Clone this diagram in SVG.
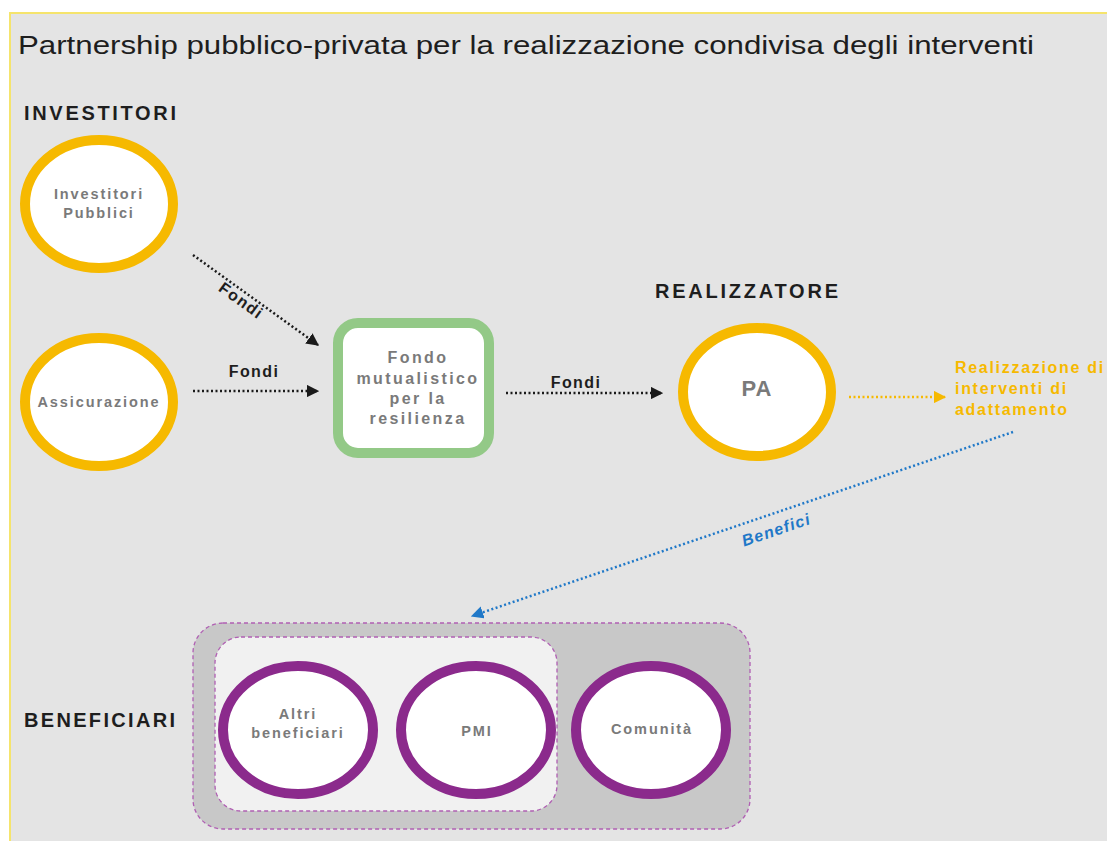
<svg xmlns="http://www.w3.org/2000/svg" width="1107" height="841" viewBox="0 0 1107 841">
  <defs>
    <marker id="arrBlack" viewBox="0 0 10 10" refX="9" refY="5" markerWidth="5" markerHeight="5" orient="auto" markerUnits="strokeWidth">
      <path d="M0,0 L10,5 L0,10 Z" fill="#1a1a1a"/>
    </marker>
    <marker id="arrYellow" viewBox="0 0 10 10" refX="9" refY="5" markerWidth="5" markerHeight="5" orient="auto" markerUnits="strokeWidth">
      <path d="M0,0 L10,5 L0,10 Z" fill="#f6b900"/>
    </marker>
    <marker id="arrBlue" viewBox="0 0 10 10" refX="9" refY="5" markerWidth="5" markerHeight="5" orient="auto" markerUnits="strokeWidth">
      <path d="M0,0 L10,5 L0,10 Z" fill="#1f78c8"/>
    </marker>
    <style>
      .sect { font-family: "Liberation Sans", Arial, sans-serif; font-weight: bold; font-size: 20px; fill: #1e1e1e; }
      .lbl { font-family: "Liberation Sans", Arial, sans-serif; font-weight: bold; font-size: 14.5px; letter-spacing: 1.9px; fill: #7a7a7a; text-anchor: middle; }
      .lbl-box { font-size: 16px; letter-spacing: 2.4px; }
      .lbl-pa { font-size: 22px; letter-spacing: 1px; }
      .edge { font-family: "Liberation Sans", Arial, sans-serif; font-weight: bold; font-size: 16px; letter-spacing: 1.4px; fill: #1e1e1e; text-anchor: middle; }
      .out { font-family: "Liberation Sans", Arial, sans-serif; font-weight: bold; font-size: 16px; letter-spacing: 1.7px; fill: #f6b900; }
      .ring-y { fill: #ffffff; stroke: #f6b900; stroke-width: 10; }
      .ring-p { fill: #ffffff; stroke: #8b2a8c; stroke-width: 10; }
      .flow { fill: none; stroke: #1a1a1a; stroke-width: 2.5; stroke-dasharray: 2 2.5; }
    </style>
  </defs>

  <!-- page -->
  <rect x="0" y="0" width="1107" height="841" fill="#ffffff"/>
  <rect x="10" y="13" width="1100" height="832" fill="#e4e4e4" stroke="#f5e46c" stroke-width="2"/>

  <text x="18" y="54" font-family="Liberation Sans, Arial, sans-serif" font-size="25" fill="#1e1e1e" textLength="1016" lengthAdjust="spacingAndGlyphs">Partnership pubblico-privata per la realizzazione condivisa degli interventi</text>

  <text class="sect" x="24" y="120" textLength="152" lengthAdjust="spacing">INVESTITORI</text>
  <text class="sect" x="655" y="298" textLength="183" lengthAdjust="spacing">REALIZZATORE</text>
  <text class="sect" x="24" y="727" textLength="151" lengthAdjust="spacing">BENEFICIARI</text>

  <!-- beneficiary groupings -->
  <g id="group-beneficiari">
    <rect x="193" y="623" width="557" height="206" rx="30" fill="#c8c8c8" stroke="#b05fb3" stroke-width="1.3" stroke-dasharray="4 3"/>
    <rect x="215" y="637" width="342" height="174" rx="26" fill="#f1f1f1" stroke="#b05fb3" stroke-width="1.3" stroke-dasharray="4 3"/>
  </g>

  <g id="node-investitori-pubblici">
    <ellipse class="ring-y" cx="99" cy="204" rx="74" ry="64"/>
    <text class="lbl" x="99" y="199">Investitori</text>
    <text class="lbl" x="99" y="218">Pubblici</text>
  </g>

  <g id="node-assicurazione">
    <ellipse class="ring-y" cx="99" cy="402" rx="74" ry="64"/>
    <text class="lbl" x="99" y="407">Assicurazione</text>
  </g>

  <g id="node-fondo">
    <rect x="338" y="323" width="151" height="130" rx="20" fill="#ffffff" stroke="#93c987" stroke-width="10"/>
    <text class="lbl lbl-box" x="418" y="363">Fondo</text>
    <text class="lbl lbl-box" x="418" y="384">mutualistico</text>
    <text class="lbl lbl-box" x="418" y="404">per la</text>
    <text class="lbl lbl-box" x="418" y="424">resilienza</text>
  </g>

  <g id="node-pa">
    <ellipse class="ring-y" cx="757" cy="392" rx="74" ry="64"/>
    <text class="lbl lbl-pa" x="757" y="396">PA</text>
  </g>

  <g id="node-realizzazione">
    <text class="out">
      <tspan x="955" y="373">Realizzazione di</tspan>
      <tspan x="955" y="394">interventi di</tspan>
      <tspan x="955" y="415">adattamento</tspan>
    </text>
  </g>

  <g id="node-altri">
    <ellipse class="ring-p" cx="298" cy="730" rx="75" ry="64"/>
    <text class="lbl" x="298" y="719">Altri</text>
    <text class="lbl" x="298" y="738">beneficiari</text>
  </g>

  <g id="node-pmi">
    <ellipse class="ring-p" cx="476" cy="730" rx="75" ry="64"/>
    <text class="lbl" x="477" y="736">PMI</text>
  </g>

  <g id="node-comunita">
    <ellipse class="ring-p" cx="651" cy="730" rx="75" ry="64"/>
    <text class="lbl" x="652" y="734">Comunità</text>
  </g>

  <!-- connectors -->
  <g id="connectors">
    <line class="flow" x1="193" y1="255" x2="318" y2="345" marker-end="url(#arrBlack)"/>
    <text class="edge" transform="translate(238,305) rotate(36)">Fondi</text>

    <line class="flow" x1="193" y1="391" x2="318" y2="391" marker-end="url(#arrBlack)"/>
    <text class="edge" x="254" y="377">Fondi</text>

    <line class="flow" x1="506" y1="393" x2="662" y2="393" marker-end="url(#arrBlack)"/>
    <text class="edge" x="576" y="388">Fondi</text>

    <line x1="849" y1="397" x2="945" y2="397" fill="none" stroke="#f6b900" stroke-width="2.5" stroke-dasharray="2 2.5" marker-end="url(#arrYellow)"/>

    <line x1="1013" y1="432" x2="472" y2="616" fill="none" stroke="#1f78c8" stroke-width="2.5" stroke-dasharray="2 2.5" marker-end="url(#arrBlue)"/>
    <text transform="translate(778,535) rotate(-18.8)" font-family="Liberation Sans, Arial, sans-serif" font-weight="bold" font-style="italic" font-size="16" letter-spacing="1.2" fill="#1f78c8" text-anchor="middle">Benefici</text>
  </g>
</svg>
